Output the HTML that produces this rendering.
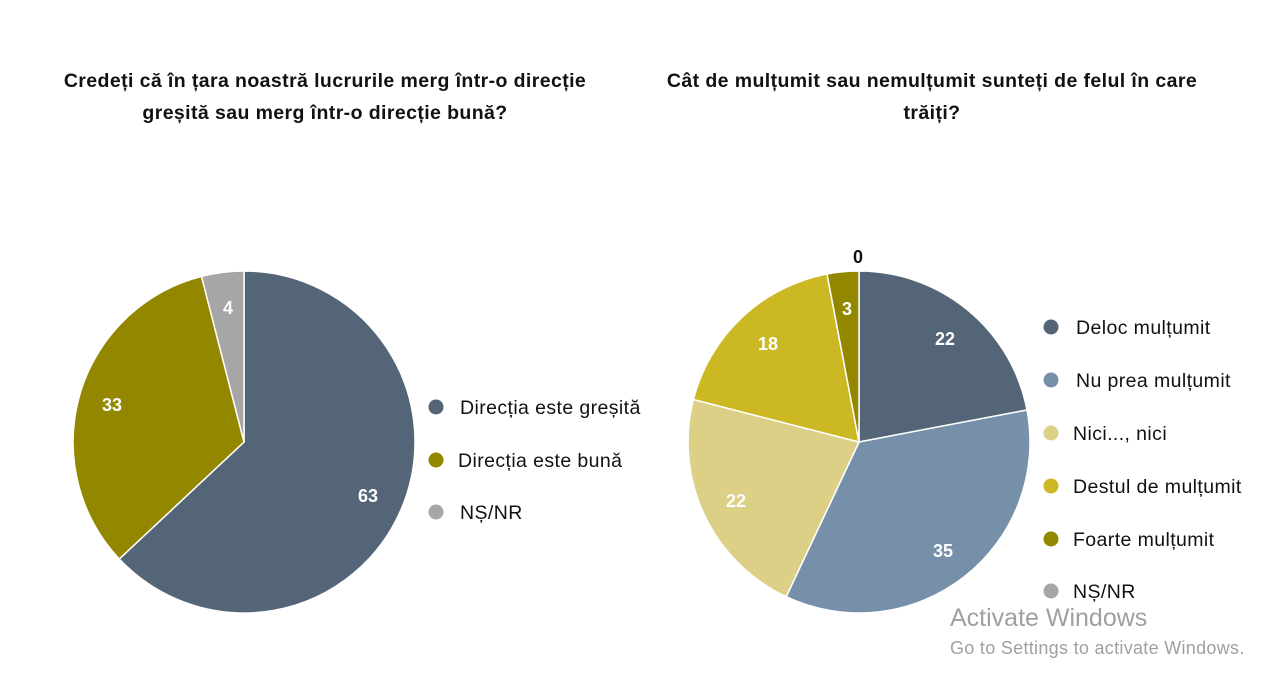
<!DOCTYPE html>
<html><head><meta charset="utf-8"><style>
body{margin:0;width:1280px;height:687px;background:#fff;overflow:hidden;font-family:"Liberation Sans",sans-serif}
</style></head><body>
<svg width="1280" height="687" xmlns="http://www.w3.org/2000/svg" font-family="Liberation Sans, sans-serif">
<g font-weight="bold" font-size="19.5" fill="#111" text-anchor="middle" letter-spacing="0.4">
<text x="325" y="87">Credeți că în țara noastră lucrurile merg într-o direcție</text>
<text x="325" y="119">greșită sau merg într-o direcție bună?</text>
<text x="932" y="87">Cât de mulțumit sau nemulțumit sunteți de felul în care</text>
<text x="932" y="119">trăiți?</text>
</g>
<g stroke="#fff" stroke-width="1.5">
<path d="M244,442 L244,271 A171,171 0 1 1 119.3,559 Z" fill="#546577"/>
<path d="M244,442 L119.3,559 A171,171 0 0 1 201.5,276.4 Z" fill="#948700"/>
<path d="M244,442 L201.5,276.4 A171,171 0 0 1 244,271 Z" fill="#a6a6a6"/>
<path d="M859,442 L859,271 A171,171 0 0 1 1027,410 Z" fill="#546577"/>
<path d="M859,442 L1027,410 A171,171 0 0 1 786.2,596.7 Z" fill="#7590a8"/>
<path d="M859,442 L786.2,596.7 A171,171 0 0 1 693.4,399.5 Z" fill="#dccf86"/>
<path d="M859,442 L693.4,399.5 A171,171 0 0 1 827,274 Z" fill="#cbb823"/>
<path d="M859,442 L827,274 A171,171 0 0 1 859,271 Z" fill="#948700"/>
</g>
<g font-weight="bold" font-size="18" fill="#fff" text-anchor="middle">
<text x="368" y="502">63</text><text x="112" y="411">33</text><text x="228" y="314">4</text>
<text x="945" y="345">22</text><text x="943" y="557">35</text><text x="736" y="507">22</text>
<text x="768" y="350">18</text><text x="847" y="315">3</text>
<text x="858" y="263" fill="#111">0</text>
</g>
<g font-size="19.5" fill="#111" letter-spacing="0.4">
<circle cx="436" cy="407" r="7.5" fill="#546577"/><text x="460" y="414">Direcția este greșită</text>
<circle cx="436" cy="460" r="7.5" fill="#948700"/><text x="458" y="467">Direcția este bună</text>
<circle cx="436" cy="512" r="7.5" fill="#a6a6a6"/><text x="460" y="519">NȘ/NR</text>
<circle cx="1051" cy="327" r="7.5" fill="#546577"/><text x="1076" y="334">Deloc mulțumit</text>
<circle cx="1051" cy="380" r="7.5" fill="#7590a8"/><text x="1076" y="387">Nu prea mulțumit</text>
<circle cx="1051" cy="433" r="7.5" fill="#dccf86"/><text x="1073" y="440">Nici..., nici</text>
<circle cx="1051" cy="486" r="7.5" fill="#cbb823"/><text x="1073" y="493">Destul de mulțumit</text>
<circle cx="1051" cy="539" r="7.5" fill="#948700"/><text x="1073" y="546">Foarte mulțumit</text>
<circle cx="1051" cy="591" r="7.5" fill="#a6a6a6"/><text x="1073" y="598">NȘ/NR</text>
</g>
<text x="950" y="626" font-size="25" fill="#a0a0a0">Activate Windows</text>
<text x="950" y="654" font-size="18" fill="#a0a0a0" letter-spacing="0.3">Go to Settings to activate Windows.</text>
</svg>
</body></html>
